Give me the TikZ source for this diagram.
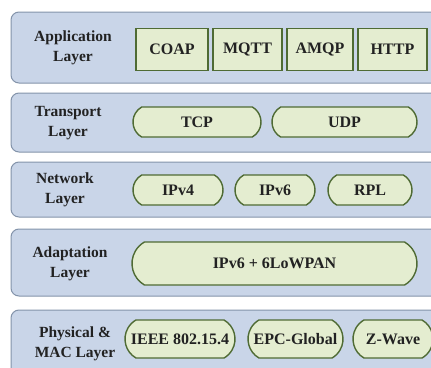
\documentclass[tikz,border=0pt]{standalone}
\usepackage{fontspec}
\setmainfont{Liberation Serif}[BoldFont={Liberation Serif Bold}]
\newfontfamily\tnrb{Liberation Serif Bold}
\usetikzlibrary{shapes.misc}
\definecolor{layerfill}{HTML}{C9D5E8}
\definecolor{layerdraw}{HTML}{8393AA}
\definecolor{itemfill}{HTML}{E4EDD0}
\definecolor{itemdraw}{HTML}{4F6B34}
\definecolor{txt}{HTML}{222222}
\tikzset{
  layer/.style={draw=layerdraw, line width=1pt, fill=layerfill, rounded corners=8pt, inner sep=0pt},
  lbl/.style={font=\tnrb\fontsize{15.5}{19.5}\selectfont, text=txt, align=center, inner sep=0pt},
  pill/.style={rounded rectangle, rounded rectangle arc length=120, draw=itemdraw, line width=1.4pt, fill=itemfill, inner sep=0pt, font=\tnrb\fontsize{16}{19}\selectfont, text=txt},
  sq/.style={rectangle, draw=itemdraw, line width=1.8pt, fill=itemfill, inner sep=0pt, font=\tnrb\fontsize{16}{19}\selectfont, text=txt}
}
\begin{document}
\begin{tikzpicture}[x=1pt,y=-1pt]
\useasboundingbox (0,0) rectangle (431,367);
\clip (0,0) rectangle (431,367);
% layers
\node[layer, minimum width=434pt, minimum height=71pt] (L1) at (228,47.5) {};
\node[layer, minimum width=434pt, minimum height=59pt] (L2) at (228,122.5) {};
\node[layer, minimum width=434pt, minimum height=55pt] (L3) at (228,189.5) {};
\node[layer, minimum width=434pt, minimum height=67pt] (L4) at (228,262.5) {};
\node[layer, minimum width=434pt, minimum height=70pt] (L5) at (228,345) {};
% labels
\node[lbl] (t1) at (73,48) {Application\\Layer};
\node[lbl] (t2) at (68,123) {Transport\\Layer};
\node[lbl] (t3) at (65,190) {Network\\Layer};
\node[lbl] (t4) at (70,264) {Adaptation\\Layer};
\node[lbl] (t5) at (75,344) {Physical \&\\MAC Layer};
% application
\node[sq, minimum width=72pt, minimum height=42pt] (coap) at (172,49.5) {COAP};
\node[sq, minimum width=69pt, minimum height=42pt] (mqtt) at (247.5,49.5) {MQTT};
\node[sq, minimum width=66pt, minimum height=42pt] (amqp) at (320,49.5) {AMQP};
\node[sq, minimum width=69pt, minimum height=42pt] (http) at (392.5,49.5) {HTTP};
% transport
\node[pill, minimum width=128pt, minimum height=30pt] (tcp) at (197,122) {TCP};
\node[pill, minimum width=145pt, minimum height=30pt] (udp) at (344.5,122) {UDP};
% network
\node[pill, minimum width=90pt, minimum height=30pt] (ipv4) at (178,190) {IPv4};
\node[pill, minimum width=80pt, minimum height=30pt] (ipv6) at (275,190) {IPv6};
\node[pill, minimum width=84pt, minimum height=30pt] (rpl) at (370,190) {RPL};
% adaptation
\node[pill, minimum width=285pt, minimum height=43pt] (lowpan) at (274.5,263.5) {IPv6 + 6LoWPAN};
% physical
\node[pill, minimum width=110pt, minimum height=38pt] (ieee) at (180,339) {IEEE 802.15.4};
\node[pill, minimum width=95pt, minimum height=38pt] (epc) at (295.5,339) {EPC-Global};
\node[pill, minimum width=80pt, minimum height=38pt] (zw) at (393,339) {Z-Wave};
\end{tikzpicture}
\end{document}
